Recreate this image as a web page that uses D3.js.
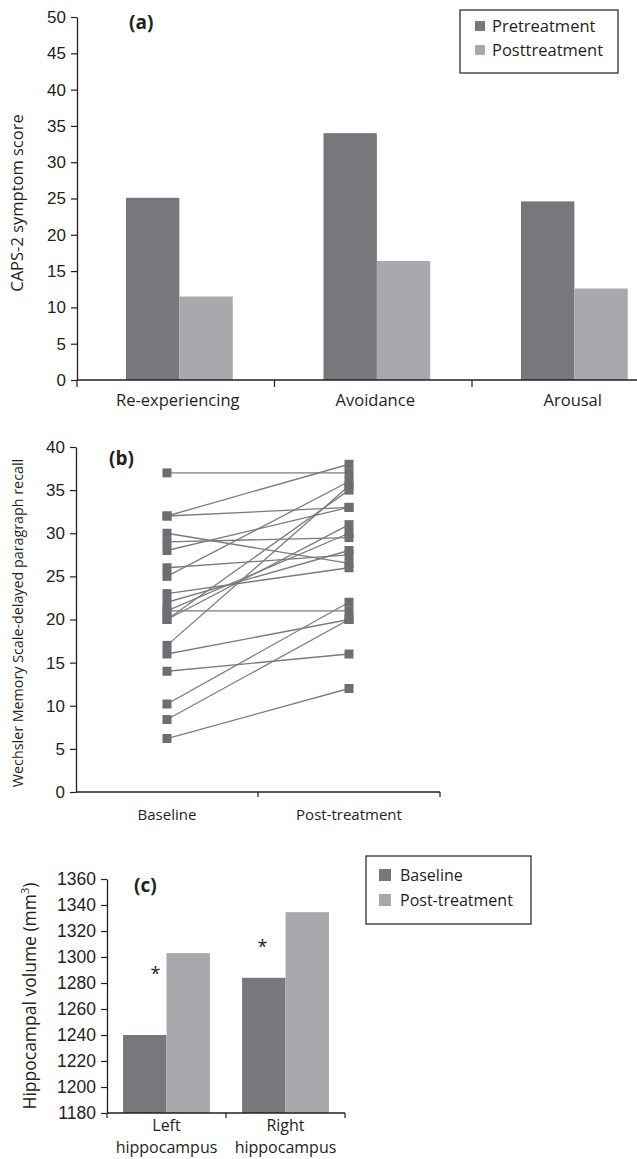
<!DOCTYPE html>
<html>
<head>
<meta charset="utf-8">
<script src="https://cdn.jsdelivr.net/npm/d3@7"></script>
<style>
  body { margin: 0; background: #fff; }
  svg { display: block; font-family: "Open Sans", sans-serif; }
  .tick text { fill: #231f20; }
</style>
</head>
<body>
<svg width="637" height="1159"></svg>
<script>
// panel (a) – CAPS-2 symptom clusters
const symptomCats = ["Re-experiencing", "Avoidance", "Arousal"];
const preScores = [25.1, 34.0, 24.6];
const postScores = [11.5, 16.4, 12.6];
const capsTicks = [0, 5, 10, 15, 20, 25, 30, 35, 40, 45, 50];

// panel (b) – paragraph recall per subject
const recallGroups = ["Baseline", "Post-treatment"];
const recallBaseline = [37, 32, 32, 30, 29, 28, 26, 25, 23, 22, 21, 21, 20, 20, 17, 16, 14, 10.2, 8.4, 6.2];
const recallPost     = [37, 38, 33, 26.5, 29.5, 33, 27.5, 36, 26, 28, 30, 21, 35, 31, 35.5, 20, 16, 22, 20, 12];
const recallTicks = [0, 5, 10, 15, 20, 25, 30, 35, 40];

// panel (c) – hippocampal volume
const hippoSides = [["Left", "hippocampus"], ["Right", "hippocampus"]];
const hippoBaseline = [1240, 1284];
const hippoPost = [1303, 1334.5];
const hippoTicks = [1180, 1200, 1220, 1240, 1260, 1280, 1300, 1320, 1340, 1360];

const dark = "#77787b";
const light = "#a7a9ac";
const ink = "#231f20";

const svg = d3.select("svg");

function styleAxis(g, size) {
    g.select(".domain").attr("stroke", ink).attr("stroke-width", 1.3);
    g.selectAll(".tick line").attr("stroke", ink).attr("stroke-width", 1.2);
    g.selectAll(".tick text").attr("font-size", size).attr("fill", ink);
}

// ---------- (a) ----------
{
    const x = d3.scaleBand().domain(symptomCats).range([77, 669.5]);
    const x1 = d3.scaleBand().domain(["pre", "post"]).range([0, x.bandwidth()])
        .paddingOuter(0.85).paddingInner(0).align(0.54);
    const y = d3.scaleLinear().domain([0, 50]).range([380, 17]);

    const g = svg.append("g");
    g.append("g").attr("transform", "translate(77,0)")
        .call(d3.axisLeft(y).tickValues(capsTicks).tickSize(6).tickPadding(5).tickSizeOuter(0))
        .call(a => styleAxis(a, 17));

    const groups = g.selectAll("g.grp").data(symptomCats).join("g")
        .attr("transform", d => `translate(${x(d)},0)`);
    groups.append("rect")
        .attr("x", x1("pre")).attr("width", x1.bandwidth())
        .attr("y", (d, i) => y(preScores[i])).attr("height", (d, i) => y(0) - y(preScores[i]))
        .attr("fill", dark);
    groups.append("rect")
        .attr("x", x1("post")).attr("width", x1.bandwidth())
        .attr("y", (d, i) => y(postScores[i])).attr("height", (d, i) => y(0) - y(postScores[i]))
        .attr("fill", light);

    // x axis with ticks at category boundaries
    g.append("line").attr("x1", 77).attr("x2", 637).attr("y1", y(0)).attr("y2", y(0))
        .attr("stroke", ink).attr("stroke-width", 1.3);
    g.selectAll("line.bt").data(symptomCats).join("line")
        .attr("x1", d => x(d)).attr("x2", d => x(d))
        .attr("y1", y(0)).attr("y2", y(0) + 7).attr("stroke", ink).attr("stroke-width", 1.2);
    g.selectAll("text.cat").data(symptomCats).join("text")
        .attr("x", d => x(d) + x.bandwidth() / 2 + 2).attr("y", 406)
        .attr("text-anchor", "middle").attr("font-size", 16.5).attr("fill", ink).text(d => d);

    g.append("text").attr("transform", "translate(23,203) rotate(-90)")
        .attr("text-anchor", "middle").attr("font-size", 16.5).attr("fill", ink)
        .text("CAPS-2 symptom score");
    g.append("text").attr("x", 129).attr("y", 29).attr("font-size", 19).attr("font-weight", "bold")
        .attr("fill", ink).text("(a)");

    // legend
    const lg = g.append("g").attr("transform", "translate(460,10)");
    lg.append("rect").attr("width", 158).attr("height", 63).attr("fill", "none")
        .attr("stroke", ink).attr("stroke-width", 1.2);
    [["Pretreatment", dark], ["Posttreatment", light]].forEach(([t, c], i) => {
        lg.append("rect").attr("x", 15).attr("y", 11 + i * 24).attr("width", 10).attr("height", 10).attr("fill", c);
        lg.append("text").attr("x", 32).attr("y", 22 + i * 24).attr("font-size", 16.5).attr("fill", ink).text(t);
    });
}

// ---------- (b) ----------
{
    const x = d3.scaleBand().domain(recallGroups).range([76, 440]);
    const y = d3.scaleLinear().domain([0, 40]).range([792, 447]);
    const g = svg.append("g");

    g.append("g").attr("transform", "translate(76,0)")
        .call(d3.axisLeft(y).tickValues(recallTicks).tickSize(6).tickPadding(5).tickSizeOuter(0))
        .call(a => styleAxis(a, 17));

    g.append("line").attr("x1", 76).attr("x2", 440).attr("y1", y(0)).attr("y2", y(0))
        .attr("stroke", ink).attr("stroke-width", 1.3);
    g.selectAll("line.bt").data(recallGroups).join("line")
        .attr("x1", d => x(d) + x.bandwidth()).attr("x2", d => x(d) + x.bandwidth())
        .attr("y1", y(0)).attr("y2", y(0) + 5).attr("stroke", ink).attr("stroke-width", 1.2);
    g.selectAll("text.cat").data(recallGroups).join("text")
        .attr("x", d => x(d) + x.bandwidth() / 2).attr("y", 820)
        .attr("text-anchor", "middle").attr("font-size", 15).attr("fill", ink).text(d => d);

    const cx0 = x("Baseline") + x.bandwidth() / 2;
    const cx1 = x("Post-treatment") + x.bandwidth() / 2;
    const pairs = recallBaseline.map((b, i) => ({ b, p: recallPost[i] }));

    g.selectAll("line.subj").data(pairs).join("line")
        .attr("x1", cx0).attr("x2", cx1)
        .attr("y1", d => y(d.b)).attr("y2", d => y(d.p))
        .attr("stroke", "#7a7b7e").attr("stroke-width", 1.3);
    g.selectAll("rect.b").data(pairs).join("rect")
        .attr("x", cx0 - 4.5).attr("y", d => y(d.b) - 4.5).attr("width", 9).attr("height", 9)
        .attr("fill", "#6d6e71");
    g.selectAll("rect.p").data(pairs).join("rect")
        .attr("x", cx1 - 4.5).attr("y", d => y(d.p) - 4.5).attr("width", 9).attr("height", 9)
        .attr("fill", "#6d6e71");

    g.append("text").attr("transform", "translate(23,623) rotate(-90)")
        .attr("text-anchor", "middle").attr("font-size", 14.3).attr("fill", ink)
        .text("Wechsler Memory Scale-delayed paragraph recall");
    g.append("text").attr("x", 109).attr("y", 465).attr("font-size", 19).attr("font-weight", "bold")
        .attr("fill", ink).text("(b)");
}

// ---------- (c) ----------
{
    const names = hippoSides.map(d => d.join(" "));
    const x = d3.scaleBand().domain(names).range([107, 345]);
    const x1 = d3.scaleBand().domain(["base", "post"]).range([0, x.bandwidth()]).paddingOuter(0.37).paddingInner(0);
    const y = d3.scaleLinear().domain([1180, 1360]).range([1113, 879]);
    const starDx = [-11, -23];
    const starDy = [27, 41];
    const g = svg.append("g");

    g.append("g").attr("transform", "translate(107,0)")
        .call(d3.axisLeft(y).tickValues(hippoTicks).tickFormat(d3.format("d")).tickSize(6).tickPadding(5).tickSizeOuter(0))
        .call(a => styleAxis(a, 17.5));

    const groups = g.selectAll("g.grp").data(names).join("g")
        .attr("transform", d => `translate(${x(d)},0)`);
    groups.append("rect")
        .attr("x", x1("base")).attr("width", x1.bandwidth())
        .attr("y", (d, i) => y(hippoBaseline[i])).attr("height", (d, i) => y(1180) - y(hippoBaseline[i]))
        .attr("fill", dark);
    groups.append("rect")
        .attr("x", x1("post")).attr("width", x1.bandwidth())
        .attr("y", (d, i) => y(hippoPost[i])).attr("height", (d, i) => y(1180) - y(hippoPost[i]))
        .attr("fill", light);
    groups.append("text")
        .attr("x", (d, i) => x1("post") + starDx[i])
        .attr("y", (d, i) => y(hippoPost[i]) + starDy[i])
        .attr("text-anchor", "middle").attr("font-size", 18).attr("fill", ink).text("*");

    g.append("line").attr("x1", 107).attr("x2", 345).attr("y1", y(1180)).attr("y2", y(1180))
        .attr("stroke", ink).attr("stroke-width", 1.3);
    g.selectAll("line.bt").data(names).join("line")
        .attr("x1", d => x(d) + x.bandwidth()).attr("x2", d => x(d) + x.bandwidth())
        .attr("y1", y(1180)).attr("y2", y(1180) + 5).attr("stroke", ink).attr("stroke-width", 1.2);
    g.append("line").attr("x1", 107).attr("x2", 107).attr("y1", y(1180)).attr("y2", y(1180) + 5)
        .attr("stroke", ink).attr("stroke-width", 1.2);
    hippoSides.forEach((lines, i) => {
        const t = g.append("text").attr("text-anchor", "middle").attr("font-size", 16).attr("fill", ink);
        lines.forEach((s, j) => t.append("tspan")
            .attr("x", x(names[i]) + x.bandwidth() / 2).attr("y", 1131 + j * 22).text(s));
    });

    const yl = g.append("text").attr("transform", "translate(36,996) rotate(-90)")
        .attr("text-anchor", "middle").attr("font-size", 17.5).attr("fill", ink);
    yl.append("tspan").text("Hippocampal volume (mm");
    yl.append("tspan").attr("font-size", 11).attr("dy", -7).text("3");
    yl.append("tspan").attr("dy", 7).text(")");

    g.append("text").attr("x", 134).attr("y", 892).attr("font-size", 19).attr("font-weight", "bold")
        .attr("fill", ink).text("(c)");

    const lg = g.append("g").attr("transform", "translate(366,856)");
    lg.append("rect").attr("width", 165).attr("height", 68).attr("fill", "none")
        .attr("stroke", ink).attr("stroke-width", 1.2);
    [["Baseline", dark], ["Post-treatment", light]].forEach(([t, c], i) => {
        lg.append("rect").attr("x", 13).attr("y", 13 + i * 25).attr("width", 12).attr("height", 12).attr("fill", c);
        lg.append("text").attr("x", 34).attr("y", 25 + i * 25).attr("font-size", 16).attr("fill", ink).text(t);
    });
}
</script>
</body>
</html>
